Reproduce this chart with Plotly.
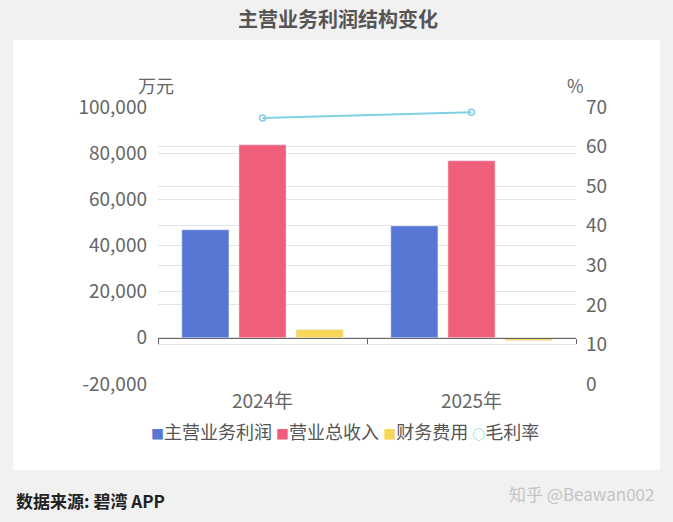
import plotly.graph_objects as go

categories = ["2024年", "2025年"]
main_profit = [46800, 48500]
total_revenue = [83600, 76700]
finance_cost = [3600, -1200]
gross_margin = [67.2, 68.7]

left_ticks = [-20000, 0, 20000, 40000, 60000, 80000, 100000]
left_tick_labels = ["-20,000", "0", "20,000", "40,000", "60,000", "80,000", "100,000"]
right_ticks = [0, 10, 20, 30, 40, 50, 60, 70]

FONT = "Noto Sans CJK SC, Noto Sans, sans-serif"
BLUE = "#5877d4"
RED = "#ef5f7b"
YELLOW = "#f7d659"
CYAN = "#7fd0e2"

series_names = ["主营业务利润", "营业总收入", "财务费用", "毛利率"]
series_colors = [BLUE, RED, YELLOW, CYAN]

fig = go.Figure()
fig.add_trace(go.Bar(name=series_names[0], x=categories, y=main_profit, marker_color=BLUE))
fig.add_trace(go.Bar(name=series_names[1], x=categories, y=total_revenue, marker_color=RED))
fig.add_trace(go.Bar(name=series_names[2], x=categories, y=finance_cost, marker_color=YELLOW))
fig.add_trace(go.Scatter(name=series_names[3], x=categories, y=gross_margin, yaxis="y2",
                         mode="lines+markers",
                         line=dict(color=CYAN, width=2),
                         marker=dict(symbol="circle-open", size=6, color=CYAN, line=dict(width=1.5))))

L, R, T, B = 158, 97, 107, 138
W, H = 673, 522
pw, ph = W - L - R, H - T - B

def px(x):
    return (x - L) / pw

def py(y):
    return (H - B - y) / ph

# legend built as a single text line (compact, like the reference)
legend_parts = []
for name, col, sym in zip(series_names, series_colors, ["■", "■", "■", "○"]):
    weight = "font-weight:bold;" if sym == "○" else ""
    legend_parts.append(f'<span style="color:{col};font-size:13px;{weight}">{sym}</span>{name}')
legend_text = " ".join(legend_parts)

fig.update_layout(
    width=W, height=H,
    margin=dict(l=L, r=R, t=T, b=B, pad=0, autoexpand=False),
    paper_bgcolor="#f1f1f1",
    plot_bgcolor="rgba(0,0,0,0)",
    font=dict(family=FONT, color="#666", size=17),
    barmode="group",
    bargap=0.18,
    bargroupgap=0.175,
    showlegend=False,
    xaxis=dict(type="category", anchor="free", position=1/6,
               showline=True, linecolor="#666", linewidth=1,
               ticks="outside", tickson="boundaries", ticklen=5, tickcolor="#666",
               ticklabelstandoff=46, tickfont=dict(size=19, color="#666"),
               showgrid=False),
    yaxis=dict(range=[-20000, 100000], tickvals=left_ticks, ticktext=left_tick_labels,
               showgrid=True, gridcolor="#e3e3e9", gridwidth=1,
               zeroline=False, showline=False, ticks="", ticklabelstandoff=10,
               tickfont=dict(size=19, color="#666")),
    yaxis2=dict(range=[0, 70], tickvals=right_ticks, overlaying="y", side="right",
                showgrid=True, gridcolor="#e3e3e9", gridwidth=1,
                zeroline=False, showline=False, ticks="", ticklabelstandoff=9,
                tickfont=dict(size=19, color="#666")),
    shapes=[
        dict(type="rect", xref="paper", yref="paper", layer="below",
             x0=px(13), x1=px(660), y0=py(470), y1=py(40),
             fillcolor="white", line=dict(width=0)),
    ],
    annotations=[
        dict(text="<b>主营业务利润结构变化</b>", xref="paper", yref="paper",
             x=px(338), y=py(18), xanchor="center", yanchor="middle", showarrow=False,
             font=dict(size=20, color="#555")),
        dict(text="万元", xref="paper", yref="paper", x=px(176), y=py(85),
             xanchor="right", yanchor="middle", showarrow=False,
             font=dict(size=18, color="#666")),
        dict(text="%", xref="paper", yref="paper", x=px(575), y=py(85),
             xanchor="center", yanchor="middle", showarrow=False,
             font=dict(size=18, color="#666")),
        dict(text=legend_text, xref="paper", yref="paper", x=px(345), y=py(431),
             xanchor="center", yanchor="middle", showarrow=False,
             font=dict(size=18, color="#555")),
        dict(text="<b>数据来源: 碧湾 APP</b>", xref="paper", yref="paper", x=px(14), y=py(500),
             xanchor="left", yanchor="middle", showarrow=False,
             font=dict(size=17, color="#222")),
        dict(text="知乎 @Beawan002", xref="paper", yref="paper", x=px(656), y=py(493),
             xanchor="right", yanchor="middle", showarrow=False,
             font=dict(size=17, color="#c4c4c4")),
    ],
)

fig.write_html("out.html", config={"displayModeBar": False},
               post_script="document.body.style.margin='0';document.body.style.padding='0';document.body.style.overflow='hidden';")
